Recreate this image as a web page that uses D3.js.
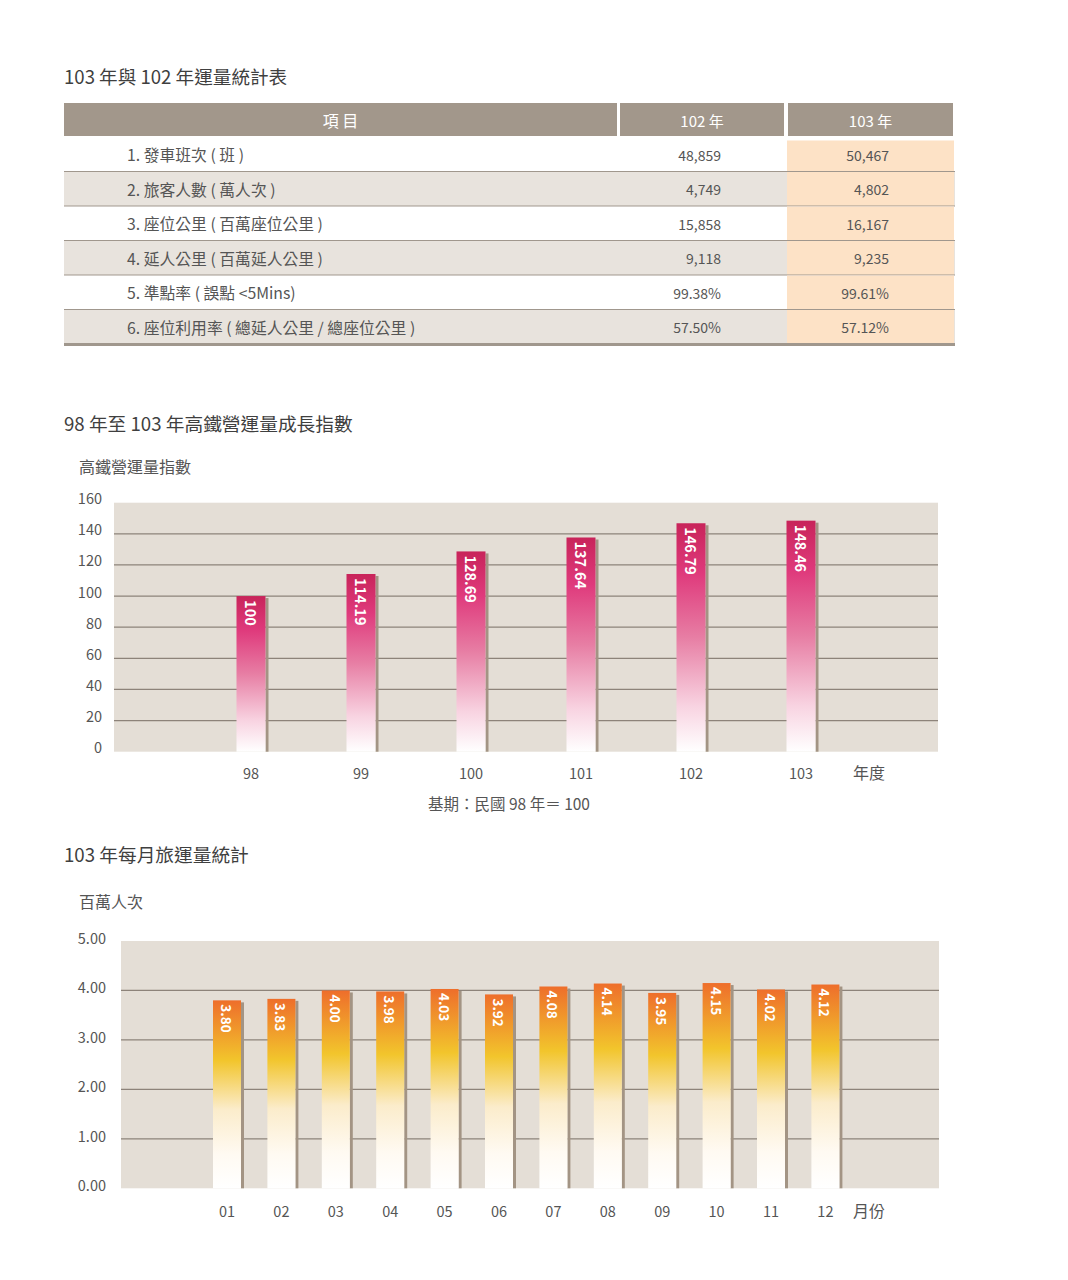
<!DOCTYPE html>
<html><head><meta charset="utf-8">
<script src="https://cdn.jsdelivr.net/npm/d3@7"></script>
<style>
body{margin:0;background:#fff}
svg{display:block}
text{font-family:"Noto Sans CJK TC","Noto Sans",sans-serif}
</style>
</head><body><svg id="c" width="1068" height="1280"></svg>
<script>
// ---------- DATA ----------
const tableTitle = "103 年與 102 年運量統計表";
const tableHeaders = ["項 目", "102 年", "103 年"];
const tableItems = [
  "1. 發車班次 ( 班 )",
  "2. 旅客人數 ( 萬人次 )",
  "3. 座位公里 ( 百萬座位公里 )",
  "4. 延人公里 ( 百萬延人公里 )",
  "5. 準點率 ( 誤點 <5Mins)",
  "6. 座位利用率 ( 總延人公里 / 總座位公里 )"
];
const values102 = ["48,859", "4,749", "15,858", "9,118", "99.38%", "57.50%"];
const values103 = ["50,467", "4,802", "16,167", "9,235", "99.61%", "57.12%"];

const chart1Title = "98 年至 103 年高鐵營運量成長指數";
const chart1YLabel = "高鐵營運量指數";
const years = ["98", "99", "100", "101", "102", "103"];
const indexValues = [100, 114.19, 128.69, 137.64, 146.79, 148.46];
const indexLabels = ["100", "114.19", "128.69", "137.64", "146.79", "148.46"];
const indexTicks = [0, 20, 40, 60, 80, 100, 120, 140, 160];
const chart1XUnit = "年度";
const chart1Note = "基期：民國 98 年＝ 100";

const chart2Title = "103 年每月旅運量統計";
const chart2YLabel = "百萬人次";
const months = ["01","02","03","04","05","06","07","08","09","10","11","12"];
const monthlyValues = [3.80, 3.83, 4.00, 3.98, 4.03, 3.92, 4.08, 4.14, 3.95, 4.15, 4.02, 4.12];
const monthlyLabels = ["3.80","3.83","4.00","3.98","4.03","3.92","4.08","4.14","3.95","4.15","4.02","4.12"];
const monthlyTicks = [0, 1, 2, 3, 4, 5];
const chart2XUnit = "月份";

// ---------- DRAW ----------
const svg = d3.select("#c");
const txt = "#555";
const defs = svg.append("defs");

function grad(id, stops) {
  const g = defs.append("linearGradient").attr("id", id)
    .attr("x1", 0).attr("y1", 0).attr("x2", 0).attr("y2", 1);
  stops.forEach(s => g.append("stop").attr("offset", s[0]).attr("stop-color", s[1]));
}
grad("pink", [[0, "#c8245a"], [0.22, "#df3a7c"], [0.5, "#e77ea4"], [0.8, "#f8d3e1"], [1, "#ffffff"]]);
grad("orange", [[0, "#ee6e2b"], [0.32, "#f2c52c"], [0.58, "#fbeccb"], [0.82, "#fffaf2"], [1, "#ffffff"]]);

// ---- Table ----
svg.append("text").attr("x", 64).attr("y", 84).attr("font-size", 18.6).attr("fill", "#3f3f3f").text(tableTitle);

const cols = [
  {x0: 64, x1: 617},
  {x0: 620, x1: 784},
  {x0: 788, x1: 953}
];
const hdr = svg.append("g");
hdr.selectAll("rect").data(tableHeaders).join("rect")
  .attr("x", (d, i) => cols[i].x0).attr("y", 103)
  .attr("width", (d, i) => cols[i].x1 - cols[i].x0).attr("height", 33)
  .attr("fill", "#a2978b");
hdr.selectAll("text").data(tableHeaders).join("text")
  .attr("x", (d, i) => (cols[i].x0 + cols[i].x1) / 2).attr("y", 120)
  .attr("text-anchor", "middle").attr("dominant-baseline", "central")
  .attr("font-size", (d, i) => i === 0 ? 16 : 15).attr("fill", "#fff").text(d => d);

const rowY = d3.scaleBand().domain(d3.range(tableItems.length)).range([137.5, 344.5]);
const rows = svg.append("g").selectAll("g").data(tableItems).join("g");
rows.append("rect")
  .attr("x", 64).attr("y", (d, i) => rowY(i))
  .attr("width", 891).attr("height", rowY.bandwidth())
  .attr("fill", (d, i) => i % 2 ? "#e8e3dd" : "#ffffff");
rows.append("rect")
  .attr("x", 787).attr("y", (d, i) => i === 0 ? 140.5 : rowY(i))
  .attr("width", 167).attr("height", (d, i) => i === 0 ? rowY.bandwidth() - 3 : rowY.bandwidth())
  .attr("fill", "#fde2c6");
rows.append("line")
  .attr("x1", 64).attr("x2", 955)
  .attr("y1", (d, i) => rowY(i) + rowY.bandwidth())
  .attr("y2", (d, i) => rowY(i) + rowY.bandwidth())
  .attr("stroke", "#a0978d").attr("stroke-width", (d, i) => i === tableItems.length - 1 ? 3 : 2);
rows.append("text")
  .attr("x", 127).attr("y", (d, i) => rowY(i) + rowY.bandwidth() / 2 + 0)
  .attr("dominant-baseline", "central").attr("font-size", 15.8).attr("fill", txt).text(d => d);
rows.append("text")
  .attr("x", 721).attr("y", (d, i) => rowY(i) + rowY.bandwidth() / 2)
  .attr("text-anchor", "end").attr("dominant-baseline", "central")
  .attr("font-size", 14).attr("fill", txt).text((d, i) => values102[i]);
rows.append("text")
  .attr("x", 889).attr("y", (d, i) => rowY(i) + rowY.bandwidth() / 2)
  .attr("text-anchor", "end").attr("dominant-baseline", "central")
  .attr("font-size", 14).attr("fill", txt).text((d, i) => values103[i]);

// ---- generic bar chart ----
function barChart(o) {
  const g = svg.append("g");
  g.append("text").attr("x", 64).attr("y", o.titleY).attr("dominant-baseline", "central")
    .attr("font-size", 18.7).attr("fill", "#3f3f3f").text(o.title);
  g.append("text").attr("x", 79).attr("y", o.yLabelY).attr("dominant-baseline", "central")
    .attr("font-size", 16).attr("fill", txt).text(o.yLabel);

  const y = d3.scaleLinear().domain([0, d3.max(o.ticks)]).range([o.bottom, o.top]);
  const x = d3.scaleBand().domain(o.cats).range(o.xRange);

  g.append("rect").attr("x", o.left).attr("y", o.top)
    .attr("width", o.right - o.left).attr("height", o.bottom - o.top).attr("fill", "#e4ded6");

  g.selectAll("line.grid").data(o.ticks.slice(1, -1)).join("line").attr("class", "grid")
    .attr("x1", o.left).attr("x2", o.right).attr("y1", d => y(d)).attr("y2", d => y(d))
    .attr("stroke", "#8d837a").attr("stroke-width", 1.2);

  const ax = g.append("g").attr("transform", `translate(${o.tickX},0)`)
    .call(d3.axisLeft(y).tickValues(o.ticks).tickFormat(o.fmt).tickSize(0).tickPadding(0));
  ax.select(".domain").remove();
  ax.selectAll("text").attr("font-size", 14.5).attr("fill", txt).attr("dy", null)
    .attr("dominant-baseline", "central").attr("y", o.tickDy)
    .style("font-family", '"Noto Sans CJK TC","Noto Sans",sans-serif');

  const bars = g.selectAll("g.bar").data(o.values).join("g").attr("class", "bar");
  const cx = (d, i) => x(o.cats[i]) + x.bandwidth() / 2;
  bars.append("rect")
    .attr("x", (d, i) => cx(d, i) + o.barW / 2).attr("y", d => y(d) + 2)
    .attr("width", 3).attr("height", d => o.bottom - y(d) - 2).attr("fill", "#a39484");
  bars.append("rect")
    .attr("x", (d, i) => cx(d, i) - o.barW / 2).attr("y", d => y(d))
    .attr("width", o.barW).attr("height", d => o.bottom - y(d)).attr("fill", `url(#${o.grad})`);
  bars.append("text")
    .attr("transform", (d, i) => `translate(${cx(d, i)},${y(d) + 4}) rotate(90)`)
    .attr("dominant-baseline", "central").attr("font-size", o.labelSize).attr("font-weight", "bold")
    .attr("fill", "#fff").text((d, i) => o.labels[i]);

  g.selectAll("text.xl").data(o.cats).join("text").attr("class", "xl")
    .attr("x", d => x(d) + x.bandwidth() / 2).attr("y", o.xLabelY)
    .attr("text-anchor", "middle").attr("dominant-baseline", "central")
    .attr("font-size", 14.5).attr("fill", txt).text(d => d);
  g.append("text").attr("x", o.unitX).attr("y", o.xLabelY).attr("dominant-baseline", "central")
    .attr("font-size", 16).attr("fill", txt).text(o.unit);
  return g;
}

barChart({
  title: chart1Title, titleY: 422, yLabelY: 466, yLabel: chart1YLabel,
  cats: years, values: indexValues, labels: indexLabels, ticks: indexTicks,
  fmt: d3.format("d"), top: 502.7, bottom: 751.7, left: 114, right: 938,
  xRange: [196, 856], barW: 29, grad: "pink", labelSize: 14.5,
  tickX: 102, tickDy: -5.5, xLabelY: 772, unit: chart1XUnit, unitX: 853
});
svg.append("text").attr("x", 509).attr("y", 803).attr("text-anchor", "middle")
  .attr("dominant-baseline", "central").attr("font-size", 15.5).attr("fill", txt).text(chart1Note);

barChart({
  title: chart2Title, titleY: 853, yLabel: chart2YLabel, yLabelY: 901,
  cats: months, values: monthlyValues, labels: monthlyLabels, ticks: monthlyTicks,
  fmt: d3.format(".2f"), top: 941, bottom: 1188.3, left: 121, right: 939,
  xRange: [199.8, 852.6], barW: 28, grad: "orange", labelSize: 13.5,
  tickX: 106, tickDy: -4, xLabelY: 1210, unit: chart2XUnit, unitX: 853
});
</script>
</body></html>
